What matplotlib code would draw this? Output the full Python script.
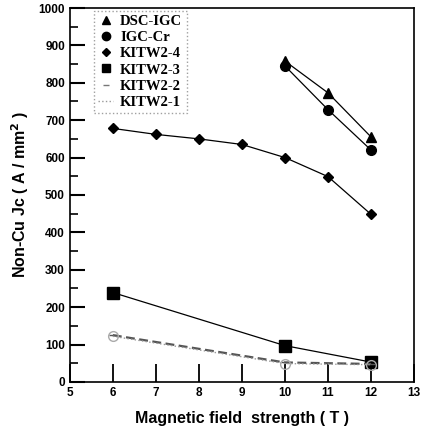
import numpy as np
import matplotlib.pyplot as plt
from matplotlib.lines import Line2D

# field (T) and Non-Cu Jc (A/mm2)
field = [6, 7, 8, 9, 10, 11, 12]
field_hi = [10, 11, 12]
field_lo = [6, 10, 12]

dsc_igc = [858, 773, 655]
igc_cr = [845, 728, 620]
kitw2_4 = [678, 662, 650, 635, 600, 549, 448]
kitw2_3 = [239, 97, 53]
kitw2_2 = [125, 52, 48]
kitw2_1 = [122, 49, 46]

names = ['DSC-IGC', 'IGC-Cr', 'KITW2-4', 'KITW2-3', 'KITW2-2', 'KITW2-1']

plt.rcParams['font.family'] = ['Liberation Sans', 'DejaVu Sans']
plt.rcParams['font.weight'] = 'bold'

fig = plt.figure(figsize=(4.23, 4.33), dpi=100)
ax = fig.add_axes([0.165, 0.118, 0.814, 0.8635])

ax.plot(field_hi, dsc_igc, '-', color='black', lw=0.9, marker='^', ms=7)
ax.plot(field_hi, igc_cr, '-', color='black', lw=0.9, marker='o', ms=7)
ax.plot(field, kitw2_4, '-', color='black', lw=0.9, marker='D', ms=5)
ax.plot(field_lo, kitw2_3, '-', color='black', lw=0.9, marker='s', ms=8)
ax.plot(field_lo, kitw2_2, '--', color='#555555', lw=1.6, marker='_', ms=6, dashes=(4, 2))
ax.plot(field_lo, kitw2_1, ':', color='#999999', lw=1.0, marker='o', ms=7,
        mfc='none', mec='#aaaaaa')

ax.set_xlim(5, 13)
ax.set_ylim(0, 1000)
ax.set_xticks(range(5, 14))
ax.set_yticks(range(0, 1001, 100))
ax.set_yticks(range(50, 1000, 100), minor=True)
ax.tick_params(axis='y', which='major', direction='in', length=11, width=1.5, labelsize=8.5)
ax.tick_params(axis='y', which='minor', direction='in', length=6, width=1.2)
ax.tick_params(axis='x', which='major', direction='in', length=13, width=1.3, labelsize=8.5)
ax.tick_params(right=False, top=False)
for s in ax.spines.values():
    s.set_linewidth(1.2)

ax.set_xlabel('Magnetic field  strength ( T )', fontsize=11.5, fontweight='bold', labelpad=9)
ax.set_ylabel('Non-Cu Jc ( A / mm$^\\mathbf{2}$ )', fontsize=11.5, fontweight='bold', labelpad=5)

handles = [
    Line2D([], [], ls='none', marker='^', color='black', ms=6),
    Line2D([], [], ls='none', marker='o', color='black', ms=6),
    Line2D([], [], ls='none', marker='D', color='black', ms=4.5),
    Line2D([], [], ls='none', marker='s', color='black', ms=6),
    Line2D([], [], ls='none', marker='_', color='#777777', ms=5),
    Line2D([], [], ls=':', color='#999999', lw=1.0),
]
leg = ax.legend(handles, names, loc='upper left', bbox_to_anchor=(0.07, 0.993), frameon=True,
                fancybox=False, handlelength=1.0, handletextpad=0.5,
                labelspacing=0.2, borderpad=0.3, borderaxespad=0.0,
                prop={'family': 'Liberation Serif', 'weight': 'bold', 'size': 10.5})
leg.get_frame().set_edgecolor('#888888')
leg.get_frame().set_linestyle(':')
leg.get_frame().set_linewidth(1.0)

fig.savefig('out.png', dpi=100)
